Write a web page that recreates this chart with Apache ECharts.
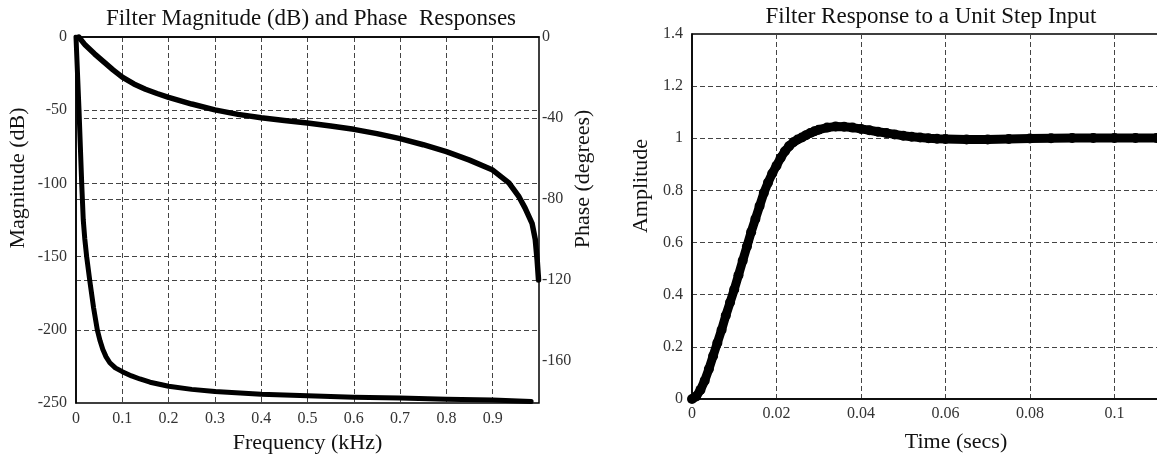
<!DOCTYPE html>
<html>
<head>
<meta charset="utf-8">
<script src="https://cdn.jsdelivr.net/npm/echarts@6/dist/echarts.min.js"></script>
<style>
  html, body { margin: 0; padding: 0; background: #fff; }
  #chart { width: 1157px; height: 456px; }
</style>
</head>
<body>
<div id="chart"></div>
<script>
// magnitude response (dB) vs frequency (kHz)
const magFreq = [0, 0.0065, 0.0123, 0.0157, 0.019, 0.023, 0.03, 0.038, 0.046, 0.052, 0.058, 0.065, 0.073, 0.085, 0.1, 0.12, 0.138, 0.16, 0.2, 0.25, 0.3, 0.4, 0.5, 0.6, 0.7, 0.8, 0.9, 0.983];
const magDb = [0, -50, -100, -125, -138, -150, -167, -185, -200, -207.5, -213.5, -218.5, -222.5, -226, -228.6, -231.5, -233.6, -235.8, -238.6, -240.7, -242.2, -244, -245, -246, -246.6, -247.4, -248, -249];

// phase response (degrees) vs frequency (kHz)
const phaseFreq = [0.006, 0.02, 0.04, 0.06, 0.08, 0.1, 0.125, 0.15, 0.175, 0.2, 0.25, 0.3, 0.35, 0.4, 0.45, 0.5, 0.55, 0.6, 0.65, 0.7, 0.75, 0.8, 0.85, 0.9, 0.935, 0.957, 0.97, 0.985, 0.992, 0.996, 0.999];
const phaseDeg = [0, -4, -8.3, -12.3, -16.2, -19.8, -23.2, -25.8, -27.9, -29.8, -33.1, -36, -38.2, -39.9, -41.2, -42.5, -44, -45.6, -47.7, -50.2, -53.2, -56.6, -60.8, -65.7, -72, -79, -84.5, -92, -100, -110, -120];

// step response
const stepTime = [0, 0.001, 0.002, 0.003, 0.004, 0.005, 0.006, 0.007, 0.008, 0.009, 0.010, 0.011, 0.012, 0.013, 0.014, 0.015, 0.016, 0.017, 0.018, 0.019, 0.020, 0.021, 0.022, 0.023, 0.024, 0.025, 0.026, 0.027, 0.028, 0.029, 0.030, 0.032, 0.034, 0.036, 0.038, 0.040, 0.042, 0.044, 0.046, 0.048, 0.050, 0.052, 0.054, 0.056, 0.058, 0.060, 0.065, 0.070, 0.075, 0.080, 0.085, 0.090, 0.095, 0.100, 0.105, 0.110, 0.115, 0.120, 0.125];
const stepAmp = [0, 0.01, 0.035, 0.07, 0.115, 0.165, 0.215, 0.265, 0.32, 0.37, 0.42, 0.475, 0.53, 0.585, 0.64, 0.69, 0.74, 0.79, 0.83, 0.865, 0.895, 0.925, 0.95, 0.97, 0.985, 0.995, 1.003, 1.012, 1.02, 1.027, 1.033, 1.041, 1.045, 1.044, 1.041, 1.036, 1.031, 1.025, 1.02, 1.015, 1.01, 1.006, 1.003, 1.0, 0.998, 0.997, 0.995, 0.995, 0.997, 0.999, 1.0, 1.001, 1.001, 1.001, 1.001, 1.001, 1.001, 1.001, 1.001];

const font = "Liberation Serif";
const pair = (xs, ys) => xs.map((x, i) => [x, ys[i]]);

const gridLine = { show: true, lineStyle: { color: "#444", type: [5, 3], width: 1 }, showMinLine: false, showMaxLine: false };
const tickLabel = { color: "#333", fontFamily: font, fontSize: 16 };
const nameStyle = { fontFamily: font, fontSize: 22, color: "#111" };

const myChart = echarts.init(document.getElementById("chart"));

const option = {
  backgroundColor: "#fff",
  animation: false,
  title: [
    {
      text: "Filter Magnitude (dB) and Phase  Responses",
      left: 306, top: 2, textAlign: "center",
      textStyle: { fontFamily: font, fontSize: 23, fontWeight: "normal", color: "#111" },
    },
    {
      text: "Filter Response to a Unit Step Input",
      left: 926, top: 0, textAlign: "center",
      textStyle: { fontFamily: font, fontSize: 23, fontWeight: "normal", color: "#111" },
    },
  ],
  grid: [
    { left: 76, top: 37, width: 463, height: 366, show: true, borderColor: "#000", borderWidth: 1.5, outerBoundsMode: "none" },
    { left: 76, top: 37, width: 463, height: 324, outerBoundsMode: "none" },
    { left: 692, top: 34, width: 528, height: 365, show: true, borderColor: "#000", borderWidth: 1.5, outerBoundsMode: "none" },
  ],
  xAxis: [
    {
      gridIndex: 0, type: "value", min: 0, max: 1, interval: 0.1,
      name: "Frequency (kHz)", nameLocation: "middle", nameGap: 26, nameTextStyle: nameStyle,
      axisLine: { show: true, lineStyle: { color: "#000", width: 1.5 } },
      axisTick: { show: false },
      axisLabel: Object.assign({ margin: 8, showMaxLabel: false }, tickLabel),
      splitLine: gridLine,
    },
    { gridIndex: 1, type: "value", min: 0, max: 1, show: false },
    {
      gridIndex: 2, type: "value", min: 0, max: 0.125, interval: 0.02,
      name: "Time (secs)", nameLocation: "middle", nameGap: 32, nameTextStyle: nameStyle,
      axisLine: { show: true, lineStyle: { color: "#000", width: 1.5 } },
      axisTick: { show: false },
      axisLabel: Object.assign({ margin: 7 }, tickLabel),
      splitLine: gridLine,
    },
  ],
  yAxis: [
    {
      gridIndex: 0, type: "value", min: -250, max: 0, interval: 50,
      axisLine: { show: true, lineStyle: { color: "#000", width: 1.5 } },
      axisTick: { show: false },
      axisLabel: Object.assign({ margin: 9 }, tickLabel),
      splitLine: gridLine,
    },
    {
      gridIndex: 1, type: "value", position: "right", min: -160, max: 0, interval: 40,
      axisLine: { show: false },
      axisTick: { show: false },
      axisLabel: Object.assign({ margin: 3 }, tickLabel),
      splitLine: gridLine,
    },
    {
      gridIndex: 2, type: "value", min: 0, max: 1.4, interval: 0.2,
      axisLine: { show: true, lineStyle: { color: "#000", width: 1.5 } },
      axisTick: { show: false },
      axisLabel: Object.assign({ margin: 9 }, tickLabel),
      splitLine: gridLine,
    },
  ],
  graphic: [
    { type: "text", x: 18, y: 178, rotation: Math.PI / 2,
      style: { text: "Magnitude (dB)", font: "22px " + font, fill: "#111", textAlign: "center", textVerticalAlign: "middle" } },
    { type: "text", x: 583, y: 179, rotation: Math.PI / 2,
      style: { text: "Phase (degrees)", font: "22px " + font, fill: "#111", textAlign: "center", textVerticalAlign: "middle" } },
    { type: "text", x: 641, y: 186, rotation: Math.PI / 2,
      style: { text: "Amplitude", font: "22px " + font, fill: "#111", textAlign: "center", textVerticalAlign: "middle" } },
  ],
  series: [
    {
      name: "Magnitude", type: "line", xAxisIndex: 0, yAxisIndex: 0,
      data: pair(magFreq, magDb), showSymbol: false,
      lineStyle: { color: "#000", width: 5, join: "round", cap: "round" },
    },
    {
      name: "Phase", type: "line", xAxisIndex: 1, yAxisIndex: 1,
      data: pair(phaseFreq, phaseDeg), showSymbol: false,
      lineStyle: { color: "#000", width: 5.5, join: "round", cap: "round" },
    },
    {
      name: "Step", type: "line", xAxisIndex: 2, yAxisIndex: 2,
      data: pair(stepTime, stepAmp), symbol: "circle", symbolSize: 10, showAllSymbol: true,
      itemStyle: { color: "#000" },
      lineStyle: { color: "#000", width: 9, join: "round" },
    },
  ],
};

myChart.setOption(option);
</script>
</body>
</html>
